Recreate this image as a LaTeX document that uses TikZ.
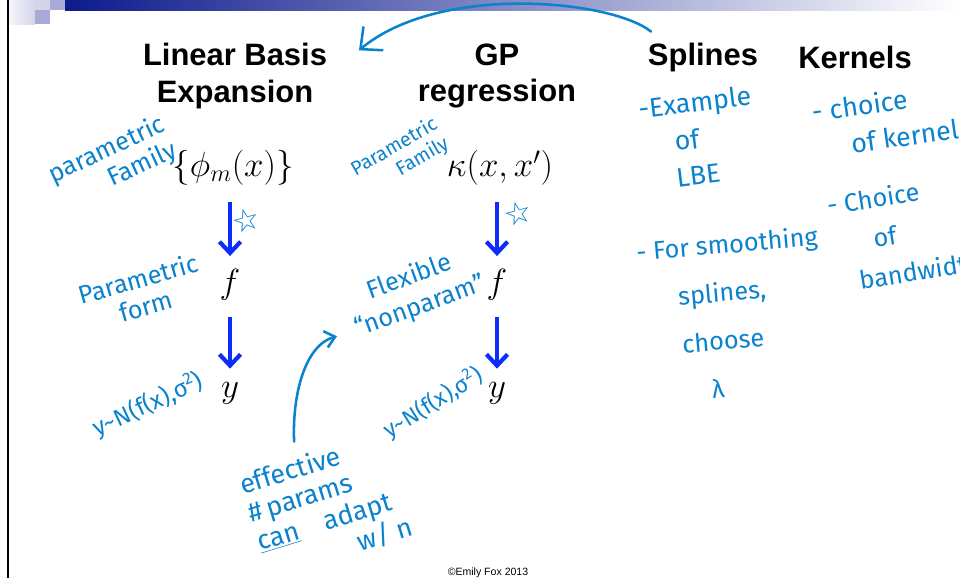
\documentclass[tikz,border=0pt]{standalone}
\usepackage{fontspec}
\usepackage{xcolor}
\usepackage{tikz}
\usetikzlibrary{
	arrows.meta,
	calc,
	positioning
}
\setmainfont{Liberation Sans}
\newfontfamily\handfont{Fira Sans}
\newfontfamily\symfont{DejaVu Sans}

\definecolor{handblue}{RGB}{10,130,205}
\definecolor{arrowblue}{RGB}{12,45,250}
\definecolor{bardark}{RGB}{12,26,140}
\definecolor{lavA}{RGB}{212,212,234}
\definecolor{lavB}{RGB}{170,170,216}

\tikzset{
	headtext/.style={font=\fontsize{22}{26}\selectfont\bfseries, align=center},
	midmath/.style={font=\fontsize{24}{28}\selectfont},
	bigmath/.style={font=\fontsize{34}{38}\selectfont},
	flow/.style={arrowblue, line width=3pt, shorten <=8pt, shorten >=6pt,
		-{Straight Barb[length=8pt,width=15pt]}},
	hand/.style={handblue, font=\handfont\fontsize{17}{19}\selectfont, align=center},
	handline/.style={handblue, line width=1.8pt, line cap=round,
		-{Straight Barb[length=7pt,width=12pt]}},
	starmark/.style={handblue, font=\symfont\bfseries\fontsize{22}{22}\selectfont, rotate=15}
}

\begin{document}
\begin{tikzpicture}[x=0.025cm, y=-0.025cm]
	\useasboundingbox (0,0) rectangle (960,580);
	\clip (0,0) rectangle (960,580);

	% 页眉色条和左边线
	\shade[left color=bardark, right color=white] (65,0) rectangle (960,10);
	\shade[left color=white!80!lavA, right color=lavA] (9,0) rectangle (35,24);
	\fill[lavA] (35,0) rectangle (50,10);
	\fill[lavB] (50,0) rectangle (65,10);
	\fill[lavB] (35,10) rectangle (50,24);
	\draw[line width=1.2pt] (8,0) -- (8,578);

	% 标题
	\node[headtext] (lbe) at (235,76) {Linear Basis\\Expansion};
	\node[headtext] (gp)  at (497,76) {GP\\regression};
	\node[headtext] (spl) at (703,57) {Splines};
	\node[headtext] (ker) at (855,57) {Kernels};

	% 公式与箭头
	\node[midmath] (phi) at (233,168) {$\{\phi_m(x)\}$};
	\node[midmath] (kap) at (500,168) {$\kappa(x,x')$};
	\node[bigmath] (f1) at (230,285) {$f$};
	\node[bigmath] (y1) at (230,393) {$y$};
	\node[bigmath] (f2) at (497,285) {$f$};
	\node[bigmath] (y2) at (497,393) {$y$};
	\draw[flow] (phi.south -| f1) -- (f1.north);
	\draw[flow] (f1) -- (y1);
	\draw[flow] (kap.south -| f2) -- (f2.north);
	\draw[flow] (f2) -- (y2);
	\node[starmark] (st1) at (246,220) {☆};
	\node[starmark] (st2) at (518,213) {☆};

	% 手写批注
	\node[hand, rotate=25, align=right, font=\handfont\fontsize{18}{20}\selectfont] (pf1) at (113,163) {parametric\\Family};
	\node[hand, rotate=30, align=right, font=\handfont\fontsize{14}{16}\selectfont] (pf2) at (400,157) {Parametric\\Family};
	\node[hand, rotate=16, font=\handfont\fontsize{18}{20}\selectfont] (pform) at (142,292) {Parametric\\form};
	\node[hand, rotate=25] (lik1) at (148,405) {y\textasciitilde N(f(x),σ\textsuperscript{2})};
	\node[hand, rotate=32, font=\handfont\fontsize{16}{18}\selectfont] (lik2) at (433,403) {y\textasciitilde N(f(x),σ\textsuperscript{2})};
	\node[hand, rotate=20, font=\handfont\fontsize{18}{22}\selectfont] (flex) at (415,292) {Flexible\\“nonparam”};
	\node[hand, rotate=17, align=left, font=\handfont\fontsize{19}{21}\selectfont] (eff) at (326,506) {effective\\\#\,params\\\underline{can}\quad adapt\\\hspace{3.6em}w/ n};
	\draw[handline] ($(eff.north)+(-14,-6)$) .. controls (292,395) and (305,345) .. ($(flex.south west)+(-20,-12)$);

	% 上方弯箭头
	\coordinate (lbetip) at ($(lbe.north east)+(27,12)$);
	\draw[handline, -{Straight Barb[length=12pt,width=22pt]}] ($(spl.north west)+(8,-6)$) .. controls (612,0) and (440,-17) .. (lbetip);

	% 右侧两列
	\node[hand, rotate=7, align=left, font=\handfont\fontsize{19}{26}\selectfont] (splA) at (699,138) {-Example\\\hspace{1.2em}of\\\hspace{1.1em}LBE};
	\node[hand, rotate=5, align=left, font=\handfont\fontsize{18}{34}\selectfont] (splB) at (733,315) {- For smoothing\\\hspace{1.5em}splines,\\\hspace{1.5em}choose\\\hspace{2.5em}λ};
	\node[hand, rotate=8, align=left, font=\handfont\fontsize{19}{26}\selectfont] (kerA) at (885,120) {- choice\\\hspace{1.3em}of kernel};
	\node[hand, rotate=9, align=left, font=\handfont\fontsize{18}{28}\selectfont] (kerB) at (904,233) {- Choice\\\hspace{1.6em}of\\\hspace{0.8em}bandwidth};

	% 页脚
	\node[font=\fontsize{7.5}{9}\selectfont] (copy) at (488,573) {©Emily Fox 2013};
\end{tikzpicture}
\end{document}
